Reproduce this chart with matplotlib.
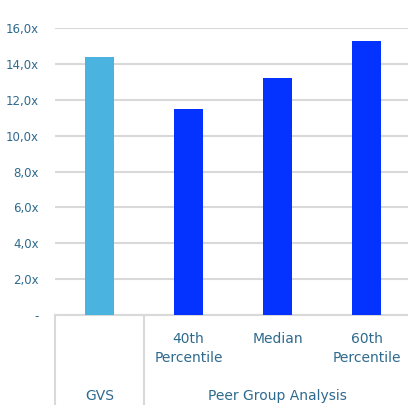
import matplotlib.pyplot as plt
from matplotlib.transforms import blended_transform_factory

# values
categories = ['GVS', '40th\nPercentile', 'Median', '60th\nPercentile']
values = [14.4, 11.5, 13.2, 15.3]
bar_colors = ['#4AB3E0', '#0433FF', '#0433FF', '#0433FF']
groups = ['GVS', 'Peer Group Analysis']
yticks = [0, 2, 4, 6, 8, 10, 12, 14, 16]
ytick_labels = ['-'] + [f'{t:.1f}'.replace('.', ',') + 'x' for t in yticks[1:]]

text_color = '#2E6A8E'
grid_color = '#D9D9D9'

fig = plt.figure(figsize=(4.08, 4.05), dpi=100)
ax = fig.add_axes([55 / 408, 90 / 405, 356 / 408, 287 / 405])

x = list(range(len(categories)))
ax.bar(x, values, width=0.315, color=bar_colors, zorder=3)

ax.set_xlim(-0.5, 3.5)
ax.set_ylim(0, 16)
ax.set_yticks(yticks)
ax.set_yticklabels(ytick_labels, color=text_color, fontsize=8.5)
ax.yaxis.grid(True, color=grid_color, linewidth=1.5, zorder=0)
ax.tick_params(axis='y', length=0, pad=11.5)
ax.set_xticks([])
for side in ['top', 'right', 'left']:
    ax.spines[side].set_visible(False)
ax.spines['bottom'].set_color(grid_color)
ax.spines['bottom'].set_linewidth(1.5)

trans = blended_transform_factory(ax.transData, ax.transAxes)

# category labels
for xi, lab in zip(x, categories):
    if xi == 0:
        continue
    ax.text(xi, -0.06, lab, transform=trans, ha='center', va='top',
            color=text_color, fontsize=10, linespacing=1.45)

# group separators
for xs in [-0.5, 0.5]:
    ax.plot([xs, xs], [0, -0.35], transform=trans, color=grid_color,
            linewidth=1.5, clip_on=False)

# group labels
ax.text(0, -0.282, groups[0], transform=trans, ha='center', va='center',
        color=text_color, fontsize=10)
ax.text(2.0, -0.282, groups[1], transform=trans, ha='center', va='center',
        color=text_color, fontsize=10)

fig.savefig('out.png', dpi=100)
